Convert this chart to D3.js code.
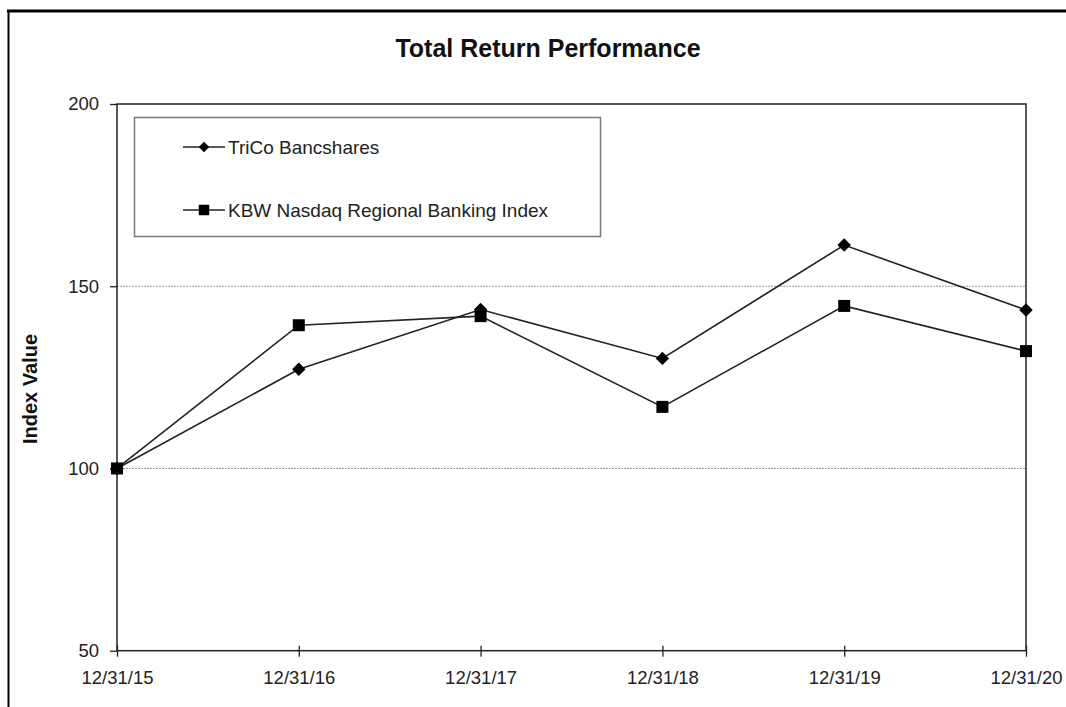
<!DOCTYPE html>
<html>
<head>
<meta charset="utf-8">
<script src="https://cdn.jsdelivr.net/npm/d3@7"></script>
<style>
  body { margin: 0; background: #fff; }
  svg { display: block; font-family: "Liberation Sans", Arial, sans-serif; }
</style>
</head>
<body>
<div id="chart"></div>
<script>
var dates = ["12/31/15", "12/31/16", "12/31/17", "12/31/18", "12/31/19", "12/31/20"];
var trico = [100, 127.2, 143.6, 130.2, 161.3, 143.5];
var kbw = [100, 139.3, 141.8, 116.9, 144.6, 132.2];
var yTicks = [50, 100, 150, 200];
var gridValues = [100, 150];

var svgWidth = 1066;
var svgHeight = 707;

var plot = { left: 117, right: 1026, top: 104, bottom: 650.7 };

var svg = d3.select("#chart")
  .append("svg")
  .attr("width", svgWidth)
  .attr("height", svgHeight);

// outer frame (runs off the right and bottom edges)
svg.append("line")
  .attr("x1", 7).attr("x2", svgWidth).attr("y1", 11).attr("y2", 11)
  .attr("stroke", "#000").attr("stroke-width", 3);
svg.append("line")
  .attr("x1", 8.5).attr("x2", 8.5).attr("y1", 10).attr("y2", svgHeight)
  .attr("stroke", "#000").attr("stroke-width", 2);

svg.append("text")
  .attr("x", 548)
  .attr("y", 57)
  .attr("text-anchor", "middle")
  .attr("font-size", 25)
  .attr("font-weight", "bold")
  .attr("fill", "#111")
  .text("Total Return Performance");

var xScale = d3.scalePoint()
  .domain(dates)
  .range([plot.left, plot.right]);

var yScale = d3.scaleLinear()
  .domain([50, 200])
  .range([plot.bottom, plot.top]);

// gridlines
svg.selectAll(".grid")
  .data(gridValues)
  .enter()
  .append("line")
  .attr("class", "grid")
  .attr("x1", plot.left)
  .attr("x2", plot.right)
  .attr("y1", d => yScale(d))
  .attr("y2", d => yScale(d))
  .attr("stroke", "#9a9a9a")
  .attr("stroke-width", 1)
  .attr("stroke-dasharray", "2,1");

// plot frame
svg.append("rect")
  .attr("x", plot.left)
  .attr("y", plot.top)
  .attr("width", plot.right - plot.left)
  .attr("height", plot.bottom - plot.top)
  .attr("fill", "none")
  .attr("stroke", "#222")
  .attr("stroke-width", 1.5);

var yAxis = d3.axisLeft(yScale).tickValues(yTicks).tickSize(7).tickPadding(11);
var yG = svg.append("g")
  .attr("transform", `translate(${plot.left},0)`)
  .call(yAxis);
yG.select(".domain").remove();
yG.selectAll("line").attr("stroke", "#222").attr("stroke-width", 1.3);
yG.selectAll("text")
  .attr("font-size", 18.5)
  .attr("font-family", "Liberation Sans, Arial, sans-serif")
  .attr("fill", "#222");

var xAxis = d3.axisBottom(xScale).tickSize(6).tickPadding(14);
var xG = svg.append("g")
  .attr("transform", `translate(0,${plot.bottom})`)
  .call(xAxis);
xG.select(".domain").remove();
xG.selectAll("line")
  .attr("y1", -5)
  .attr("y2", 6)
  .attr("stroke", "#222")
  .attr("stroke-width", 1.3);
xG.selectAll("text")
  .attr("font-size", 18.5)
  .attr("font-family", "Liberation Sans, Arial, sans-serif")
  .attr("fill", "#222")
  .attr("dy", "0.71em");

svg.append("text")
  .attr("transform", "rotate(-90)")
  .attr("x", -389)
  .attr("y", 37)
  .attr("text-anchor", "middle")
  .attr("font-size", 20)
  .attr("font-weight", "bold")
  .attr("fill", "#111")
  .text("Index Value");

var line = d3.line()
  .x((d, i) => xScale(dates[i]))
  .y(d => yScale(d));

var diamond = d3.symbol().type(d3.symbolDiamond2);
var square = d3.symbol().type(d3.symbolSquare);

[kbw, trico].forEach(function(series) {
  svg.append("path")
    .datum(series)
    .attr("d", line)
    .attr("fill", "none")
    .attr("stroke", "#222")
    .attr("stroke-width", 1.6);
});

svg.selectAll(".kbwPt")
  .data(kbw)
  .enter()
  .append("path")
  .attr("class", "kbwPt")
  .attr("d", square.size(144)())
  .attr("transform", (d, i) => `translate(${xScale(dates[i])},${yScale(d)})`)
  .attr("fill", "#000");

svg.selectAll(".tricoPt")
  .data(trico)
  .enter()
  .append("path")
  .attr("class", "tricoPt")
  .attr("d", diamond.size(115)())
  .attr("transform", (d, i) => `translate(${xScale(dates[i])},${yScale(d)})`)
  .attr("fill", "#000");

// legend
var legendNames = ["TriCo Bancshares", "KBW Nasdaq Regional Banking Index"];
var legendShapes = [diamond.size(70)(), square.size(110)()];

svg.append("rect")
  .attr("x", 134.5)
  .attr("y", 117.5)
  .attr("width", 466)
  .attr("height", 119)
  .attr("fill", "#fff")
  .attr("stroke", "#7a7a7a")
  .attr("stroke-width", 1.5);

var legend = svg.selectAll(".legendItem")
  .data(legendNames)
  .enter()
  .append("g")
  .attr("class", "legendItem")
  .attr("transform", (d, i) => `translate(0,${147 + i * 63})`);

legend.append("line")
  .attr("x1", 183)
  .attr("x2", 225)
  .attr("stroke", "#222")
  .attr("stroke-width", 1.6);

legend.append("path")
  .attr("d", (d, i) => legendShapes[i])
  .attr("transform", "translate(204,0)")
  .attr("fill", "#000");

legend.append("text")
  .attr("x", 228)
  .attr("dy", "0.35em")
  .attr("font-size", 19)
  .attr("fill", "#222")
  .text(d => d);
</script>
</body>
</html>
